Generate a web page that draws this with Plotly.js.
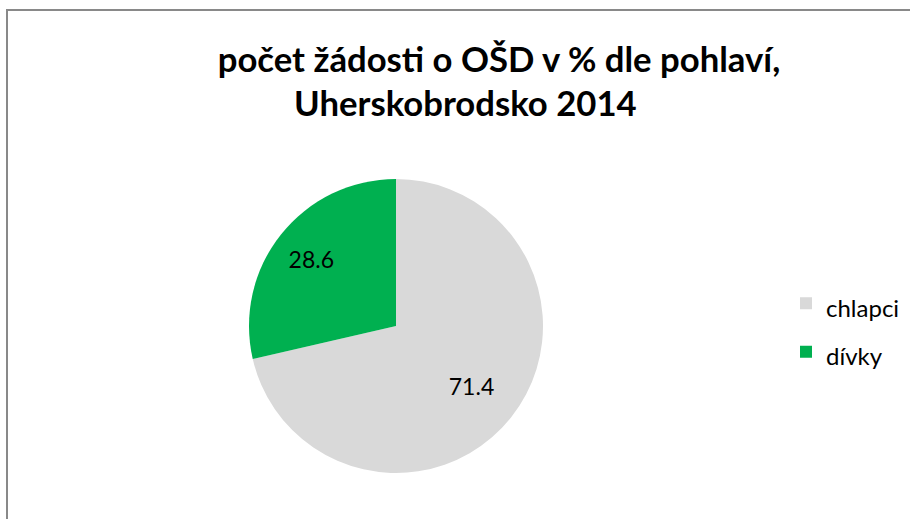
<!DOCTYPE html>
<html>
<head>
<meta charset="utf-8">
<script src="https://cdn.plot.ly/plotly-3.0.1.min.js"></script>
<style>html,body{margin:0;padding:0;background:#fff;}#chart{width:910px;height:519px;}</style>
</head>
<body>
<div id="chart"></div>
<script>
const categories = ['chlapci', 'dívky'];
const values = [71.4, 28.6];
const colors = ['#D9D9D9', '#00B050'];
const titleLine1 = 'počet žádosti o OŠD v % dle pohlaví,';
const titleLine2 = 'Uherskobrodsko 2014';

const W = 910, H = 519;
const cx = 396, cy = 326, r = 147;
const rText = 193;
const FONT = 'Lato, "Open Sans", sans-serif';

// legend text is drawn smaller than the legend row font, to keep the original's row spacing
const legendLabels = categories.map(c => '<span style="font-size:24px">' + c + '</span>');

const pie = {
  type: 'pie',
  labels: legendLabels,
  values: values,
  sort: false,
  direction: 'clockwise',
  rotation: 0,
  marker: {colors: colors, line: {width: 0}},
  textinfo: 'none',
  hoverinfo: 'label+value',
  domain: {x: [(cx - r) / W, (cx + r) / W], y: [(H - cy - r) / H, (H - cy + r) / H]}
};

// transparent overlay carrying the data labels (places them further out, like the original)
const labelsPie = {
  type: 'pie',
  labels: legendLabels,
  values: values,
  sort: false,
  direction: 'clockwise',
  rotation: 0,
  showlegend: false,
  marker: {colors: ['rgba(0,0,0,0)', 'rgba(0,0,0,0)'], line: {width: 0}},
  textinfo: 'value',
  texttemplate: '%{value:.1f}',
  textposition: 'inside',
  insidetextorientation: 'horizontal',
  textfont: {family: FONT, size: 23, color: '#000'},
  hoverinfo: 'skip',
  domain: {x: [(cx - rText) / W, (cx + rText) / W], y: [Math.max(0, (H - cy - rText) / H), (H - cy + rText) / H]}
};

const layout = {
  width: W, height: H,
  margin: {l: 0, r: 0, t: 0, b: 0},
  paper_bgcolor: '#fff',
  showlegend: true,
  legend: {
    x: 786 / W, y: 1 - 274 / H, xanchor: 'left', yanchor: 'top',
    font: {family: FONT, size: 35, color: '#000'},
    bgcolor: 'rgba(0,0,0,0)',
    traceorder: 'normal'
  },
  title: {
    text: titleLine1,
    x: 499 / W, xanchor: 'center', xref: 'paper',
    y: 1 - 60 / H, yanchor: 'middle', yref: 'paper',
    font: {family: FONT, size: 34.7, color: '#000', weight: 'bold'}
  },
  annotations: [{
    text: '<b>' + titleLine2 + '</b>',
    xref: 'paper', yref: 'paper', x: 466 / W, y: 1 - 102 / H,
    xanchor: 'center', yanchor: 'middle', showarrow: false,
    font: {family: FONT, size: 34.7, color: '#000'}
  }],
  shapes: [{
    type: 'path', xref: 'paper', yref: 'paper',
    path: 'M ' + (7 / W) + ',-0.1 L ' + (7 / W) + ',' + (1 - 10 / H) + ' L 1.1,' + (1 - 10 / H),
    line: {color: '#898989', width: 2}
  }]
};

Plotly.newPlot('chart', [pie, labelsPie], layout, {displayModeBar: false, staticPlot: true});
</script>
</body>
</html>
